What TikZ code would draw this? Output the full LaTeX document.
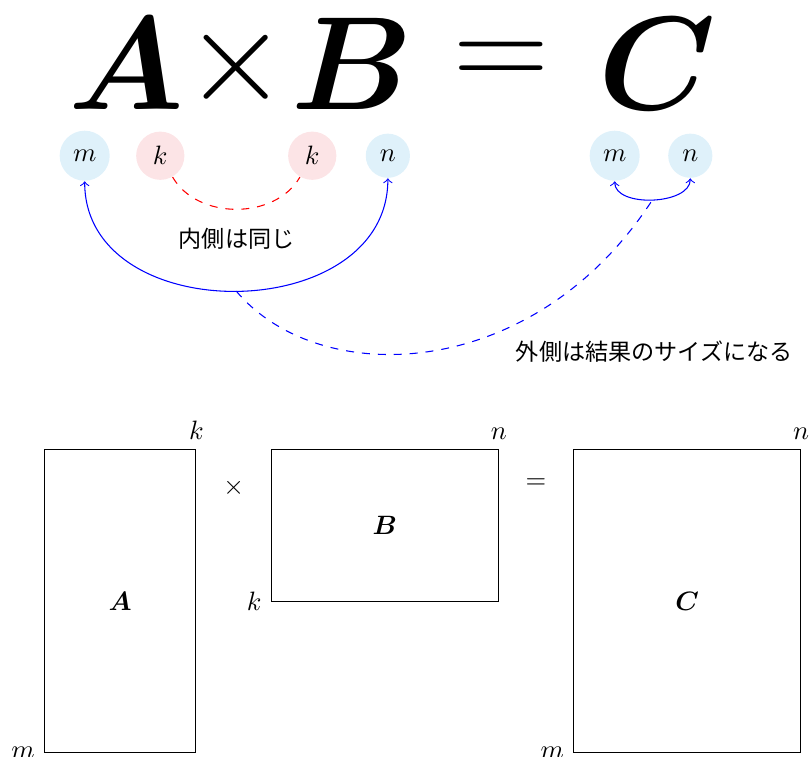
\RequirePackage{fix-cm}
\documentclass[tikz,border=0pt]{standalone}
\usepackage{amsmath}
\usepackage{fontspec}
\newfontfamily\jpfont{Noto Sans CJK JP}
\definecolor{outerfill}{RGB}{223,241,250}
\definecolor{innerfill}{RGB}{252,228,230}

\begin{document}
\begin{tikzpicture}[
    dimout/.style={circle,fill=outerfill,inner sep=3.3pt},
    dimin/.style={circle,fill=innerfill,inner sep=3.3pt},
    big/.style={font=\fontsize{50}{60}\selectfont,anchor=base},
    note/.style={font=\jpfont\fontsize{8.7}{10}\selectfont}
  ]
  \useasboundingbox (-0.59,-0.05) rectangle (10.11,9.95);
  % A x B = C
  \node[big] (bigA) at (1.08,8.5) {$\boldsymbol{A}$};
  \node[big] (bigtimes) at (2.54,8.62) {$\times$};
  \node[big] (bigB) at (4.07,8.5) {$\boldsymbol{B}$};
  \node[big] (bigeq) at (6.04,8.77) {$=$};
  \node[big] (bigC) at (8.11,8.5) {$\boldsymbol{C}$};
  % sizes
  \node[dimout] (m1) at (0.53,7.89) {$m$};
  \node[dimin]  (k1) at (1.53,7.89) {$k$};
  \node[dimin]  (k2) at (3.54,7.89) {$k$};
  \node[dimout] (n1) at (4.54,7.89) {$n$};
  \node[dimout] (m2) at (7.54,7.89) {$m$};
  \node[dimout] (n2) at (8.54,7.89) {$n$};
  \draw[red,dashed] (k1) to[out=-60,in=-120] (k2);
  \draw[blue,<->] (m1) to[out=-90,in=-90,looseness=1.25] coordinate[pos=0.5] (lo1) (n1);
  \draw[blue,<->] (m2) to[out=-90,in=-90,looseness=0.9] coordinate[pos=0.5] (lo2) (n2);
  \draw[blue,dashed] (lo1) .. controls +(-50:1.7) and +(-123:2.9) .. (lo2);
  \node[note] (same) at (2.54,6.79) {内側は同じ};
  \node[note,anchor=west] (size) at (6.11,5.30) {外側は結果のサイズになる};
  % matrices
  \foreach \nm/\x/\y/\w/\h/\cols/\rows in {A/1/2/2/4/k/m, B/4.5/3/3/2/n/k, C/8.5/2/3/4/n/m}{
    \node[draw,inner sep=0pt,minimum width=\w cm,minimum height=\h cm] (box\nm) at (\x,\y) {$\boldsymbol{\nm}$};
    \node[above] (cols\nm) at (box\nm.north east) {$\cols$};
    \node[left] (rows\nm) at (box\nm.south west) {$\rows$};
  }
  \node (times) at (2.5,3.5) {$\times$};
  \node (eq) at (6.5,3.55) {$=$};
\end{tikzpicture}
\end{document}
